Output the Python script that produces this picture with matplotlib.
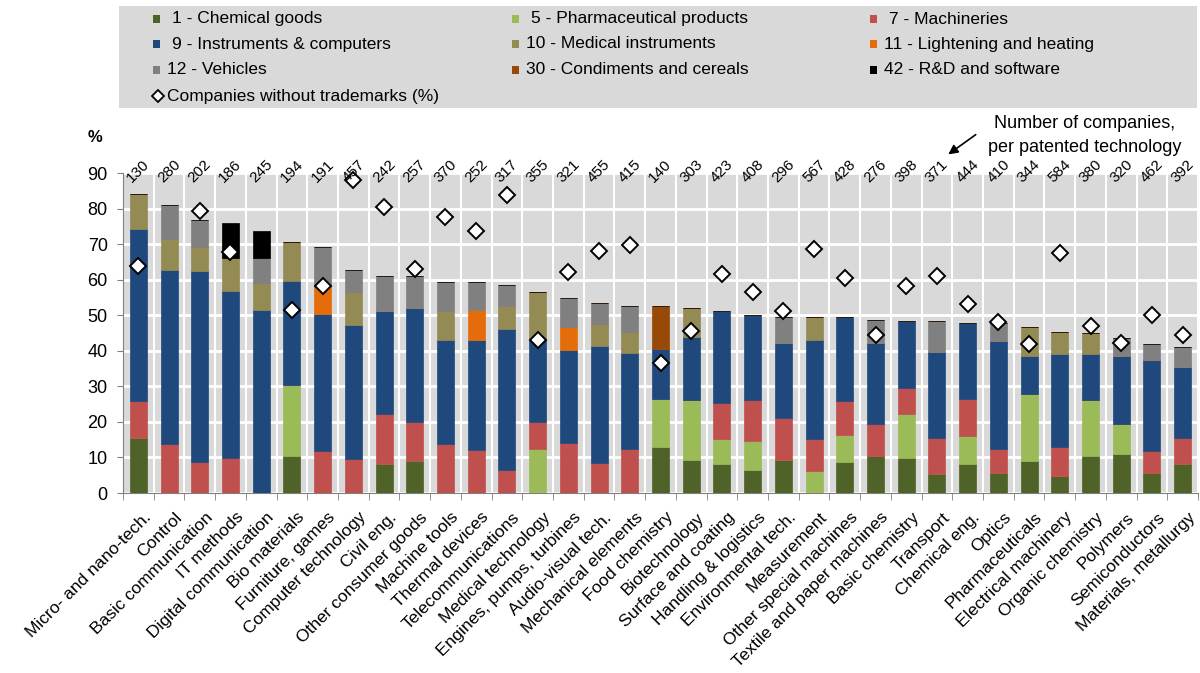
import matplotlib
matplotlib.use("Agg")
import matplotlib.pyplot as plt
import matplotlib.transforms as mtransforms
from matplotlib.patches import Rectangle
from matplotlib.lines import Line2D
import numpy as np

plt.rcParams['font.family'] = ['Liberation Sans', 'DejaVu Sans']

categories = ["Micro- and nano-tech.", "Control", "Basic communication", "IT methods",
              "Digital communication", "Bio materials", "Furniture, games", "Computer technology",
              "Civil eng.", "Other consumer goods", "Machine tools", "Thermal devices",
              "Telecommunications", "Medical technology", "Engines, pumps, turbines",
              "Audio-visual tech.", "Mechanical elements", "Food chemistry", "Biotechnology",
              "Surface and coating", "Handling & logistics", "Environmental tech.", "Measurement",
              "Other special machines", "Textile and paper machines", "Basic chemistry",
              "Transport", "Chemical eng.", "Optics", "Pharmaceuticals", "Electrical machinery",
              "Organic chemistry", "Polymers", "Semiconductors", "Materials, metallurgy"]

counts = [130, 280, 202, 186, 245, 194, 191, 457, 242, 257, 370, 252, 317, 355, 321, 455, 415,
          140, 303, 423, 408, 296, 567, 428, 276, 398, 371, 444, 410, 344, 584, 380, 320, 462, 392]

chemical = [15.5, 0, 0, 0, 0, 10.3, 0, 0, 8.2, 9.0, 0, 0, 0, 0, 0, 0, 0,
            12.9, 9.4, 8.2, 6.5, 9.4, 0, 8.7, 10.4, 9.9, 5.3, 8.2, 5.6, 9.0, 4.8, 10.3, 11.1, 5.6, 8.2]
pharma = [0, 0, 0, 0, 0, 20.0, 0, 0, 0, 0, 0, 0, 0, 12.5, 0, 0, 0,
          13.6, 16.8, 6.9, 8.1, 0, 6.1, 7.6, 0, 12.4, 0, 7.7, 0, 18.8, 0, 15.9, 8.2, 0, 0]
machinery = [10.3, 13.8, 8.7, 9.9, 0, 0, 11.7, 9.5, 14.1, 11.1, 13.8, 12.1, 6.6, 7.6, 14.2, 8.3, 12.5,
             0, 0, 10.1, 11.6, 11.7, 9.0, 9.5, 8.9, 7.2, 10.2, 10.6, 6.9, 0, 8.1, 0, 0, 6.1, 7.3]
instruments = [48.4, 48.9, 53.6, 46.8, 51.6, 29.4, 38.7, 37.8, 29.0, 32.0, 29.2, 30.9, 39.5, 22.9, 26.0, 33.1, 26.8,
               14.0, 17.7, 26.1, 23.8, 21.1, 27.9, 23.8, 22.9, 18.8, 24.2, 21.3, 30.2, 10.6, 26.3, 13.0, 19.1, 25.8, 19.9]
medical = [9.9, 8.7, 6.8, 9.5, 7.4, 10.8, 0, 9.1, 0, 0, 8.3, 0, 6.5, 13.4, 0, 6.0, 6.0,
           0, 8.2, 0, 0, 0, 6.6, 0, 0, 0, 0, 0, 0, 8.2, 6.0, 5.7, 0, 0, 0]
lighting = [0, 0, 0, 0, 0, 0, 8.4, 0, 0, 0, 0, 8.6, 0, 0, 6.4, 0, 0,
            0, 0, 0, 0, 0, 0, 0, 0, 0, 0, 0, 0, 0, 0, 0, 0, 0, 0]
vehicles = [0, 9.7, 7.8, 0, 7.2, 0, 10.3, 6.3, 9.8, 9.0, 8.1, 7.8, 5.9, 0, 8.2, 5.9, 7.3,
            0, 0, 0, 0, 7.4, 0, 0, 6.4, 0, 8.6, 0, 5.1, 0, 0, 0, 5.2, 4.4, 5.6]
condiments = [0, 0, 0, 0, 0, 0, 0, 0, 0, 0, 0, 0, 0, 0, 0, 0, 0,
              12.1, 0, 0, 0, 0, 0, 0, 0, 0, 0, 0, 0, 0, 0, 0, 0, 0, 0]
rnd_software = [0, 0, 0, 9.8, 7.6, 0, 0, 0, 0, 0, 0, 0, 0, 0, 0, 0, 0,
                0, 0, 0, 0, 0, 0, 0, 0, 0, 0, 0, 0, 0, 0, 0, 0, 0, 0]
no_trademarks = [63.9, np.nan, 79.2, 67.7, np.nan, 51.5, 58.3, 88.1, 80.3, 63.0, 77.5, 73.7, 83.9, 43.0,
                 62.2, 68.2, 69.7, 36.6, 45.5, 61.7, 56.6, 51.2, 68.6, 60.4, 44.4, 58.3, 60.9, 53.2,
                 48.0, 41.8, 67.6, 46.9, 42.1, 50.2, 44.4]

series = [
    ("1 - Chemical goods", chemical, "#4f6228"),
    ("5 - Pharmaceutical products", pharma, "#9bbb59"),
    ("7 - Machineries", machinery, "#c0504d"),
    ("9 - Instruments & computers", instruments, "#1f497d"),
    ("10 - Medical instruments", medical, "#948a54"),
    ("11 - Lightening and heating", lighting, "#e46c0a"),
    ("12 - Vehicles", vehicles, "#808080"),
    ("30 - Condiments and cereals", condiments, "#984807"),
    ("42 - R&D and software", rnd_software, "#000000"),
]
diamond_label = "Companies without trademarks (%)"

W, H = 1200, 673
fig = plt.figure(figsize=(W / 100, H / 100), dpi=100)
ax = fig.add_axes([123 / W, 1 - 493 / H, 1075 / W, 320 / H])
ax.set_facecolor("#d9d9d9")

x = np.arange(len(categories))
bottom = np.zeros(len(categories))
colors = {}
for name, vals, col in series:
    v = np.array(vals, dtype=float)
    ax.bar(x, v, width=0.55, bottom=bottom, color=col, edgecolor=col, linewidth=0.5, zorder=3)
    bottom += v
    colors[name] = col

ax.plot(x, no_trademarks, linestyle="none", marker="D", markersize=8,
        markerfacecolor="white", markeredgecolor="black", markeredgewidth=1.4, zorder=5, clip_on=False)

ax.set_xlim(-0.5, len(categories) - 0.5)
ax.set_ylim(0, 90)
ax.set_yticks(np.arange(0, 91, 10))
ax.tick_params(axis="y", labelsize=13, length=4, color="#808080", pad=7)
ax.set_xticks(x)
ax.set_xticklabels(categories, rotation=45, ha="right", va="top", rotation_mode="anchor", fontsize=12.5)
ax.tick_params(axis="x", length=0, pad=12)
shift = mtransforms.ScaledTranslation(5 / 100, 0, fig.dpi_scale_trans)
for lab in ax.get_xticklabels():
    lab.set_transform(lab.get_transform() + shift)
ax.set_xticks(np.arange(-0.5, len(categories), 1), minor=True)
ax.tick_params(axis="x", which="minor", length=5, color="#808080")
ax.grid(True, axis="y", which="major", color="white", linewidth=2, zorder=0)
ax.grid(True, axis="x", which="minor", color="white", linewidth=1.5, zorder=0)
ax.grid(False, axis="x", which="major")
for s in ["top", "right"]:
    ax.spines[s].set_visible(False)
ax.spines["left"].set_color("#808080")
ax.spines["bottom"].set_color("#808080")

for xi, c in zip(x, counts):
    ax.text(xi, 90.4, str(c), rotation=45, ha="center", va="center", fontsize=11,
            clip_on=False, zorder=6)

fig.text(95 / W, 1 - 137 / H, "%", fontsize=12, fontweight="bold", ha="center", va="center")

fig.text(1085 / W, 1 - 124 / H, "Number of companies,", fontsize=13, ha="center", va="center")
fig.text(1085 / W, 1 - 147 / H, "per patented technology", fontsize=13, ha="center", va="center")
fig.add_artist(plt.Annotation("", xy=(946 / W, 1 - 156 / H), xytext=(978 / W, 1 - 133 / H),
                              xycoords="figure fraction", textcoords="figure fraction",
                              arrowprops=dict(arrowstyle="-|>", color="black", lw=1.2, mutation_scale=14)))

# legend panel
fig.add_artist(Rectangle((119 / W, 1 - 108 / H), (1197 - 119) / W, 102 / H,
                         transform=fig.transFigure, facecolor="#d9d9d9", edgecolor="none", zorder=0))
col_x = [153, 512, 870]
row_y = [19, 44, 70, 96]
layout = [["1 - Chemical goods", "5 - Pharmaceutical products", "7 - Machineries"],
          ["9 - Instruments & computers", "10 - Medical instruments", "11 - Lightening and heating"],
          ["12 - Vehicles", "30 - Condiments and cereals", "42 - R&D and software"]]
for r, row in enumerate(layout):
    for c, name in enumerate(row):
        mx, my = col_x[c], row_y[r]
        fig.add_artist(Rectangle((mx / W, 1 - (my + 4) / H), 7 / W, 8 / H, transform=fig.transFigure,
                                 facecolor=colors[name], edgecolor="none", zorder=2))
        tx = mx + 14 + (5 if name.split(" ")[0].isdigit() and len(name.split(" ")[0]) == 1 else 0)
        fig.text(tx / W, 1 - my / H, name, fontsize=12.5, ha="left", va="center")
fig.add_artist(Line2D([158 / W], [1 - 96 / H], transform=fig.transFigure, linestyle="none", marker="D",
                      markersize=6.5, markerfacecolor="white", markeredgecolor="black", markeredgewidth=1.3))
fig.text(167 / W, 1 - 96 / H, diamond_label, fontsize=12.5, ha="left", va="center")

fig.savefig("out.png", dpi=100)
